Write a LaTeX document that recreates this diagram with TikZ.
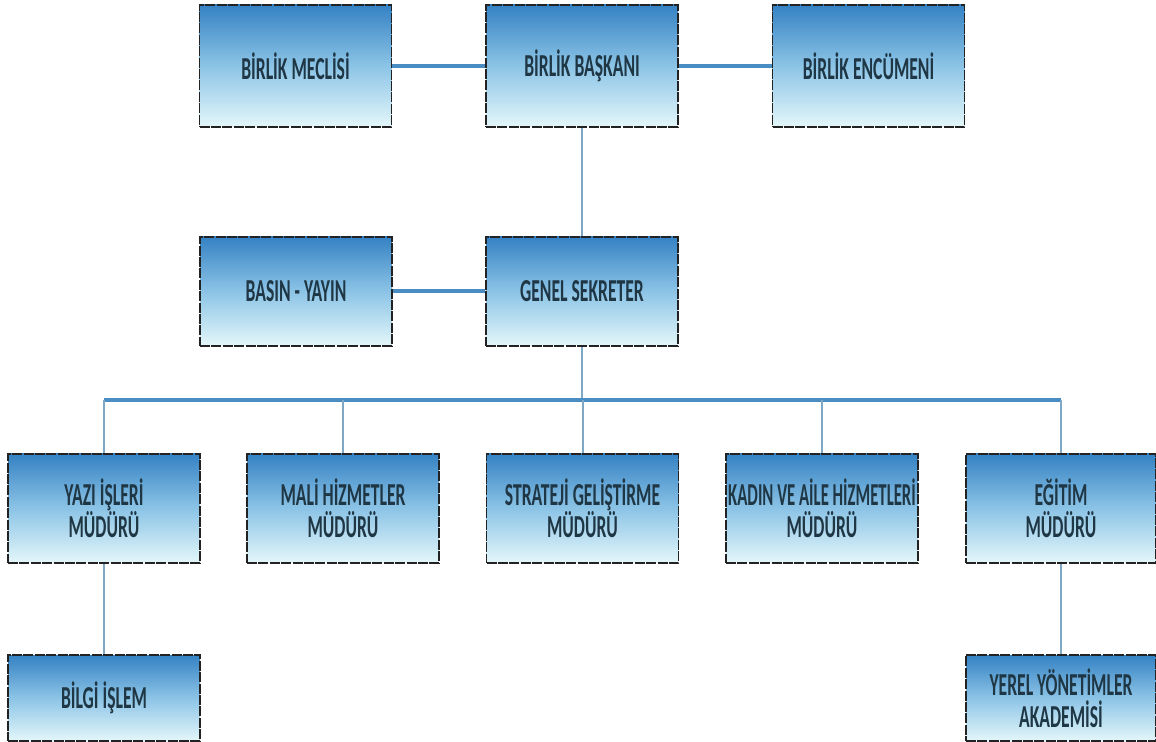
\documentclass[tikz,border=0pt]{standalone}
\usepackage{fontspec}
\setmainfont{Carlito}[FakeStretch=0.55]
\definecolor{boxtop}{HTML}{3582C4}
\definecolor{boxmid}{HTML}{8CC4E6}
\definecolor{boxbot}{HTML}{E4F7FA}
\definecolor{txt}{HTML}{1F3644}
\definecolor{lineblue}{HTML}{4A8DC2}
\definecolor{linethin}{HTML}{7FA7C6}
\definecolor{bord}{HTML}{222222}
\tikzset{
  orgbox/.style={draw=bord, line width=0.9pt, dash pattern=on 5pt off 0.7pt,
    top color=boxtop, bottom color=boxbot, middle color=boxmid, text=txt, align=center,
    font=\fontsize{16}{16}\selectfont\bfseries, inner sep=0pt,
    minimum width=96pt, minimum height=54.5pt},
  thick line/.style={draw=lineblue, line width=2pt},
  thin line/.style={draw=linethin, line width=1pt}
}
\begin{document}
\begin{tikzpicture}[x=0.5pt, y=-0.5pt]
\useasboundingbox[fill=white] (0,0) rectangle (1156,742);
% top row
\node[orgbox, minimum height=61pt] (mec) at (295.5,66) {BİRLİK MECLİSİ};
\node[orgbox, minimum height=61pt] (bas) at (582,66) {BİRLİK BAŞKANI};
\node[orgbox, minimum height=61pt] (enc) at (868.5,66) {BİRLİK ENCÜMENİ};
% second row
\node[orgbox] (basin) at (296,291.5) {BASIN - YAYIN};
\node[orgbox] (gen) at (582,291.5) {GENEL SEKRETER};
% third row
\node[orgbox] (yazi) at (104,508.5) {YAZI İŞLERİ\\MÜDÜRÜ};
\node[orgbox] (mali) at (343,508.5) {MALİ HİZMETLER\\MÜDÜRÜ};
\node[orgbox] (str) at (582.5,508.5) {STRATEJİ GELİŞTİRME\\MÜDÜRÜ};
\node[orgbox] (kad) at (822,508.5) {\scalebox{0.95}[1]{KADIN VE AİLE HİZMETLERİ}\\MÜDÜRÜ};
\node[orgbox, minimum width=95pt] (egi) at (1061,508.5) {EĞİTİM\\MÜDÜRÜ};
% fourth row
\node[orgbox, minimum height=43pt] (bil) at (104,698) {BİLGİ İŞLEM};
\node[orgbox, minimum width=95pt, minimum height=43pt] (yer) at (1061,698) {YEREL YÖNETİMLER\\AKADEMİSİ};
% connectors
\draw[thick line] (mec.east) -- (bas.west);
\draw[thick line] (bas.east) -- (enc.west);
\draw[thick line] (basin.east) -- (gen.west);
\draw[thin line] (bas.south) -- (gen.north);
\coordinate (busL) at (104,400);
\coordinate (busR) at (1061,400);
\draw[thin line] (gen.south) -- (gen.south |- busL);
\draw[thick line] (busL) -- (busR);
\draw[thin line] (busL) -- (yazi.north);
\draw[thin line] (mali.north |- busL) -- (mali.north);
\draw[thin line] (str.north |- busL) -- (str.north);
\draw[thin line] (kad.north |- busL) -- (kad.north);
\draw[thin line] (busR) -- (egi.north);
\draw[thin line] (yazi.south) -- (bil.north);
\draw[thin line] (egi.south) -- (yer.north);
\end{tikzpicture}
\end{document}
